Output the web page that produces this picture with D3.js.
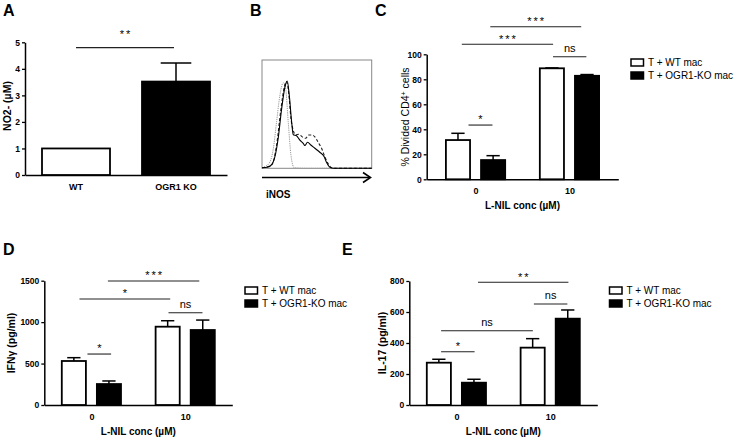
<!DOCTYPE html>
<html><head><meta charset="utf-8">
<script src="https://cdn.jsdelivr.net/npm/d3@7"></script>
<style>
body{margin:0;background:#fff}
svg{display:block}
text{font-family:"Liberation Sans",Arial,Helvetica,sans-serif;fill:#000}
</style>
</head><body>
<svg id="chart" width="738" height="438"></svg>
<script>
// ---------------- DATA ----------------
// Panel A
const aCategories = ["WT", "OGR1 KO"];
const aValues = [1.0, 3.52];
const aErrors = [0, 0.70];
const aTicks = [0, 1, 2, 3, 4, 5];
const aBracket = ["WT", "OGR1 KO", 4.8, "**"];

// Panel B (flow histograms: [fluorescence, % of max])
const histIsotype = [[0,0.5],[2.7,1.5],[7.3,6],[10.3,18],[13.3,43],[16.4,68],[19.4,79],[21.5,74],[23.9,43],[26.4,12],[29.4,0.5],[40,0],[100,0]];
const histWT = [[0,0.5],[5.8,1.2],[10.3,6],[14.8,28],[17.9,55],[20.9,75],[23,80.6],[24.8,68],[27,43],[28.5,31],[31.5,30],[34.5,26],[37.6,23],[39,21],[41.5,24],[44.5,21.5],[48.2,18.5],[52.7,14.8],[56.7,10.7],[58.8,5.5],[62.7,0.5],[67,0],[100,0]];
const histKO = [[0,0.5],[8.8,3],[13.3,21.5],[17.3,55],[20.3,75],[22.4,80],[24.5,68],[26.4,46],[28.5,35],[30.6,31],[33.6,31.4],[36.7,29],[39.7,27.7],[42.7,30.7],[45.8,30.7],[48.2,29],[51.2,24],[54.3,18.5],[57.3,10.7],[60.3,4.3],[63.4,0.5],[67,0],[100,0]];

// Panels C, D, E
const groups = ["0", "10"];
const seriesNames = ["T + WT mac", "T + OGR1-KO mac"];

const cWT = [31.4, 88.8], cWTerr = [5.4, 0.3];
const cKO = [15.4, 82.8], cKOerr = [3.5, 1.0];
const cTicks = [0, 20, 40, 60, 80, 100];
const cBrackets = [[-0.075, 0.18, 43.4, "*"], [0.825, 1.18, 98.1, "ns"], [-0.146, 0.826, 108, "***"], [0.157, 1.125, 122, "***"]];

const dWT = [531, 945], dWTerr = [40, 72];
const dKO = [253, 905], dKOerr = [37, 120];
const dTicks = [0, 500, 1000, 1500];
const dBrackets = [[-0.042, 0.21, 615, "*"], [0.822, 1.184, 1114, "ns"], [-0.127, 0.84, 1279, "*"], [0.176, 1.15, 1496, "***"]];

const eWT = [273, 370], eWTerr = [22, 58];
const eKO = [144, 557], eKOerr = [22, 56];
const eTicks = [0, 200, 400, 600, 800];
const eBrackets = [[-0.163, 0.194, 344, "*"], [-0.163, 0.815, 479, "ns"], [0.826, 1.183, 652, "ns"], [0.23, 1.194, 792, "**"]];

// ---------------- DRAWING ----------------
const svg = d3.select("#chart");
const FONT_TICK = 8.5, FONT_TITLE = 10;

function panelLetter(t, x, y) {
  svg.append("text").attr("x", x).attr("y", y).attr("font-size", 16).attr("font-weight", "bold").text(t);
}

function styleYAxis(g) {
  g.select(".domain").attr("stroke", "#000").attr("stroke-width", 1.5);
  g.selectAll(".tick line").attr("stroke", "#000").attr("stroke-width", 1.3);
  g.selectAll(".tick text").attr("font-size", FONT_TICK).attr("font-weight", "bold")
    .attr("font-family", '"Liberation Sans",Arial,sans-serif').attr("fill", "#000");
}
function styleXAxis(g) {
  g.select(".domain").attr("stroke", "#000").attr("stroke-width", 1.5);
  g.selectAll(".tick line").remove();
  g.selectAll(".tick text").attr("font-size", FONT_TICK + 0.5).attr("font-weight", "bold")
    .attr("font-family", '"Liberation Sans",Arial,sans-serif').attr("fill", "#000");
}

function yTitle(x, y, weight, build) {
  const t = svg.append("text").attr("transform", `translate(${x},${y}) rotate(-90)`)
    .attr("text-anchor", "middle").attr("dy", "0.35em").attr("font-size", 10.5).attr("font-weight", weight);
  build(t);
}

function bracket(x1, x2, yy, label, gap) {
  svg.append("line").attr("x1", x1).attr("x2", x2).attr("y1", yy).attr("y2", yy)
    .attr("stroke", "#222").attr("stroke-width", 1.1);
  const isStar = label.indexOf("*") >= 0;
  svg.append("text").attr("x", (x1 + x2) / 2 + (isStar ? 1 : 0))
    .attr("y", isStar ? yy - gap + 6.3 : yy - gap + 2.9)
    .attr("text-anchor", "middle").attr("font-size", 11)
    .attr("letter-spacing", isStar ? 2 : 0)
    .attr("fill", "#222")
    .text(label);
}

function errorBar(cx, yv, ye, cw) {
  svg.append("line").attr("x1", cx).attr("x2", cx).attr("y1", yv).attr("y2", ye)
    .attr("stroke", "#000").attr("stroke-width", 1.5);
  svg.append("line").attr("x1", cx - cw / 2).attr("x2", cx + cw / 2).attr("y1", ye).attr("y2", ye)
    .attr("stroke", "#000").attr("stroke-width", 1.5);
}

// ---- Panel A ----
(function () {
  const x = d3.scaleBand().domain(aCategories).range([25, 227]).paddingInner(0.32).paddingOuter(0.17);
  const y = d3.scaleLinear().domain([0, 5]).range([175, 42.3]);
  svg.append("g").attr("transform", "translate(25,0)")
    .call(d3.axisLeft(y).tickValues(aTicks).tickSize(3).tickSizeOuter(0).tickPadding(2).tickFormat(d3.format("d")))
    .call(styleYAxis);
  svg.append("g").attr("transform", "translate(0,175)")
    .call(d3.axisBottom(x).tickSize(0).tickPadding(8.5)).call(styleXAxis);
  aCategories.forEach((c, i) => {
    const cx = x(c) + x.bandwidth() / 2;
    if (aErrors[i] > 0) errorBar(cx, y(aValues[i]), y(aValues[i] + aErrors[i]), x.bandwidth() * 0.45);
    svg.append("rect").attr("x", x(c)).attr("y", y(aValues[i])).attr("width", x.bandwidth())
      .attr("height", y(0) - y(aValues[i])).attr("fill", i === 0 ? "#fff" : "#000")
      .attr("stroke", "#000").attr("stroke-width", 1.8);
  });
  const bx1 = x(aBracket[0]) + x.bandwidth() / 2, bx2 = x(aBracket[1]) + x.bandwidth() / 2 - 2;
  bracket(bx1, bx2, y(aBracket[2]), aBracket[3], 15.5);
  yTitle(7.5, 106, "bold", t => t.text("NO2- (\u00b5M)"));
  panelLetter("A", 3, 16);
})();

// ---- Panel B ----
(function () {
  const x = d3.scaleLinear().domain([0, 100]).range([262, 371.7]);
  const y = d3.scaleLinear().domain([0, 100]).range([168.3, 60]);
  svg.append("rect").attr("x", 262).attr("y", 60).attr("width", 109.7).attr("height", 108.3)
    .attr("fill", "none").attr("stroke", "#888").attr("stroke-width", 1);
  const line = d3.line().x(d => x(d[0])).y(d => y(d[1])).curve(d3.curveMonotoneX);
  svg.append("path").attr("d", line(histIsotype)).attr("fill", "none").attr("stroke", "#999")
    .attr("stroke-width", 1).attr("stroke-dasharray", "1.2,1");
  svg.append("path").attr("d", line(histKO)).attr("fill", "none").attr("stroke", "#222")
    .attr("stroke-width", 1.1).attr("stroke-dasharray", "3,2");
  svg.append("path").attr("d", line(histWT)).attr("fill", "none").attr("stroke", "#000")
    .attr("stroke-width", 1.1);
  // arrow axis
  svg.append("line").attr("x1", 262).attr("x2", 370).attr("y1", 177.5).attr("y2", 177.5)
    .attr("stroke", "#000").attr("stroke-width", 1.6);
  svg.append("path").attr("d", "M363,172.5 L370.5,177.5 L363,182.5").attr("fill", "none")
    .attr("stroke", "#000").attr("stroke-width", 1.6);
  svg.append("text").attr("x", 266).attr("y", 198).attr("font-size", 10).attr("font-weight", "bold").text("iNOS");
  panelLetter("B", 250, 16);
})();

// ---- Grouped panels ----
function grouped(cfg) {
  const xp = d3.scalePoint().domain(groups).range([cfg.x0, cfg.x1]).padding(cfg.pad);
  const step = xp.step();
  const u = d3.scaleLinear().domain([0, 1]).range([xp(groups[0]), xp(groups[1])]);
  const y = d3.scaleLinear().domain([0, d3.max(cfg.ticks)]).range([cfg.yb, cfg.yt]);
  const bw = step * 0.257, off = step * 0.187;

  svg.append("g").attr("transform", `translate(${cfg.x0},0)`)
    .call(d3.axisLeft(y).tickValues(cfg.ticks).tickSize(3).tickSizeOuter(0).tickPadding(2).tickFormat(d3.format("d")))
    .call(styleYAxis);
  svg.append("g").attr("transform", `translate(0,${cfg.yb})`)
    .call(d3.axisBottom(xp).tickSize(0).tickPadding(8.5)).call(styleXAxis);

  const series = [[cfg.wt, cfg.wtErr, "#fff"], [cfg.ko, cfg.koErr, "#000"]];
  series.forEach((s, si) => {
    groups.forEach((g, gi) => {
      const cx = xp(g) + (si === 0 ? -off : off);
      const v = s[0][gi], e = s[1][gi];
      errorBar(cx, y(v), y(v + e), bw * 0.55);
      svg.append("rect").attr("x", cx - bw / 2).attr("y", y(v)).attr("width", bw)
        .attr("height", y(0) - y(v)).attr("fill", s[2]).attr("stroke", "#000").attr("stroke-width", 1.8);
    });
  });

  cfg.brackets.forEach(b => bracket(u(b[0]), u(b[1]), y(b[2]), b[3], 8));

  // x title
  svg.append("text").attr("x", (cfg.x0 + cfg.x1) / 2).attr("y", cfg.yb + 30)
    .attr("text-anchor", "middle").attr("font-size", FONT_TITLE).attr("font-weight", "bold")
    .text("L-NIL conc (\u00b5M)");

  // legend
  seriesNames.forEach((n, i) => {
    const ly = cfg.legY + i * 13;
    svg.append("rect").attr("x", cfg.legX).attr("y", ly - 3.5).attr("width", 12.5).attr("height", 7)
      .attr("fill", i === 0 ? "#fff" : "#000").attr("stroke", "#000").attr("stroke-width", 1.5);
    svg.append("text").attr("x", cfg.legX + 17).attr("y", ly).attr("dy", "0.36em")
      .attr("font-size", 10).text(n);
  });
}

grouped({ x0: 426.7, x1: 618.3, pad: 0.52, yb: 179.3, yt: 54.3, ticks: cTicks,
  wt: cWT, wtErr: cWTerr, ko: cKO, koErr: cKOerr, brackets: cBrackets, legX: 631, legY: 62.5 });
yTitle(405, 117, "normal", t => {
  t.append("tspan").text("% Divided CD4");
  t.append("tspan").attr("baseline-shift", "super").attr("font-size", 7).text("+");
  t.append("tspan").text(" cells");
});
panelLetter("C", 375, 16);

grouped({ x0: 44.3, x1: 232.3, pad: 0.502, yb: 405, yt: 280.7, ticks: dTicks,
  wt: dWT, wtErr: dWTerr, ko: dKO, koErr: dKOerr, brackets: dBrackets, legX: 245, legY: 290.5 });
yTitle(11, 343, "bold", t => t.text("IFN\u03b3 (pg/ml)"));
panelLetter("D", 3, 255);

grouped({ x0: 409.3, x1: 597.3, pad: 0.502, yb: 405, yt: 281, ticks: eTicks,
  wt: eWT, wtErr: eWTerr, ko: eKO, koErr: eKOerr, brackets: eBrackets, legX: 609.5, legY: 290.5 });
yTitle(382, 343, "bold", t => t.text("IL-17 (pg/ml)"));
panelLetter("E", 342, 255);
</script>
</body></html>
